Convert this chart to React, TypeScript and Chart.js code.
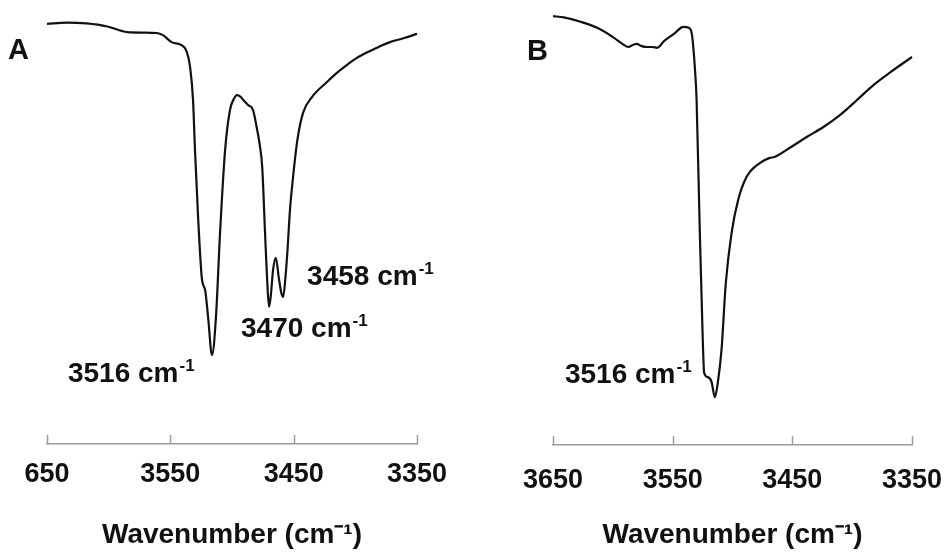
import React, { useEffect, useRef } from "react";
import { Chart, registerables } from "chart.js";

Chart.register(...registerables);

// ---- data ----
const tickValues = [3650, 3550, 3450, 3350];
const tickLabelsA = ["650", "3550", "3450", "3350"];
const tickLabelsB = ["3650", "3550", "3450", "3350"];
const axisTitle = "Wavenumber (cm\u207B\u00B9)";

const wavenumbersA = [
  3650, 3634, 3618, 3601, 3585, 3572, 3561, 3556, 3549, 3541, 3537, 3534, 3531.6, 3530, 3527.5,
  3524.3, 3521.8, 3519.4, 3516.2, 3513, 3509.7, 3505.6, 3501.6, 3498.5, 3496, 3493, 3491, 3487,
  3483, 3480, 3477.5, 3475.5, 3473.2, 3471.5, 3470, 3468.5, 3466.7, 3464.5, 3462, 3460, 3458.5,
  3456.5, 3455, 3453, 3451, 3447, 3442.4, 3435, 3423, 3415, 3407, 3399, 3390, 3381, 3372, 3361, 3350,
];
const transmittanceA = [
  96.8, 97.1, 96.9, 96.2, 94.9, 94.8, 94.7, 94.2, 92.6, 91.9, 90.6, 86.9, 79.3, 67.7, 52.3,
  37.8, 35.5, 29.3, 20.5, 29.3, 48.6, 67.7, 77.0, 79.5, 80.4, 80.0, 79.3, 78.1,
  77.0, 73.0, 68.9, 63.8, 48.6, 37.8, 31.6, 34.3, 40.1, 42.9, 38.2, 34.8, 33.9,
  38.9, 44.7, 53.9, 60.1, 70.0, 76.3, 80.0, 83.4, 85.5, 87.3, 88.9, 90.3, 91.5, 92.6, 93.5, 94.5,
];

const wavenumbersB = [
  3650, 3641, 3627, 3613, 3599, 3592, 3587, 3583, 3580, 3576, 3571.5, 3567, 3563, 3557, 3549,
  3541, 3536.5, 3534, 3531.5, 3530, 3527.3, 3525, 3523.7, 3520.6, 3517.5, 3514.8, 3512.3, 3509.2,
  3505.6, 3500.8, 3495.3, 3488.3, 3477.2, 3468.9, 3465, 3451, 3438, 3424, 3410, 3396, 3382, 3368, 3350,
];
const transmittanceB = [
  98.6, 98.3, 97.3, 95.9, 93.6, 92.2, 91.5, 92.0, 92.2, 91.7, 91.5, 91.5, 91.3, 92.9, 94.5,
  96.1, 95.9, 94.5, 86.9, 79.3, 48.7, 25.7, 16.6, 15.6, 14.5, 11.0, 14.3, 21.8,
  37.2, 48.7, 56.3, 61.6, 64.8, 66.0, 66.2, 68.5, 70.8, 73.1, 75.9, 79.3, 82.8, 85.7, 89.2,
];

const peakTextA = ["3516 cm", "3470 cm", "3458 cm"];
const peakTextB = ["3516 cm"];

// ---- layout / style ----
const FONT = '"Liberation Sans", Arial, Helvetica, sans-serif';
const INK = "#111111";
const AXIS_COLOR = "#9a9a9a";

type Ann = { text: string; x: number; y: number };

const annA: Ann[] = [
  { text: peakTextA[0], x: 3633, y: 16.1 },
  { text: peakTextA[1], x: 3492.7, y: 26.5 },
  { text: peakTextA[2], x: 3439.1, y: 38.5 },
];
const annB: Ann[] = [{ text: peakTextB[0], x: 3640, y: 16.1 }];

function makeDecor(anns: Ann[]) {
  return {
    id: "decor",
    afterDraw(chart: any) {
      const { ctx, chartArea, scales } = chart;
      const x = scales.x;
      const y = scales.y;
      ctx.save();
      ctx.strokeStyle = AXIS_COLOR;
      ctx.lineWidth = 1.5;
      x.ticks.forEach((t: any) => {
        const px = Math.round(x.getPixelForValue(t.value)) + 0.5;
        ctx.beginPath();
        ctx.moveTo(px, chartArea.bottom);
        ctx.lineTo(px, chartArea.bottom - 9);
        ctx.stroke();
      });
      ctx.fillStyle = INK;
      ctx.textBaseline = "middle";
      ctx.textAlign = "left";
      anns.forEach((a) => {
        const px = x.getPixelForValue(a.x);
        const py = y.getPixelForValue(a.y);
        ctx.font = `bold 28px ${FONT}`;
        ctx.fillText(a.text, px, py);
        const w = ctx.measureText(a.text).width;
        ctx.font = `bold 17px ${FONT}`;
        ctx.fillText("-1", px + w + 1, py - 8);
      });
      ctx.restore();
    },
  };
}

type PanelProps = {
  xs: number[];
  ys: number[];
  labels: string[];
  anns: Ann[];
  padLeft: number;
  padRight: number;
  axisHeight: number;
  tickPad: number;
};

function Panel({ xs, ys, labels, anns, padLeft, padRight, axisHeight, tickPad }: PanelProps) {
  const ref = useRef<HTMLCanvasElement | null>(null);
  useEffect(() => {
    if (!ref.current) return;
    const chart = new Chart(ref.current, {
      type: "line",
      data: {
        datasets: [
          {
            data: xs.map((v, i) => ({ x: v, y: ys[i] })),
            borderColor: INK,
            borderWidth: 2.2,
            pointRadius: 0,
            fill: false,
            cubicInterpolationMode: "monotone",
            clip: false as any,
          },
        ],
      },
      options: {
        animation: false,
        responsive: false,
        events: [],
        layout: { padding: { left: padLeft, right: padRight, top: 10, bottom: 0 } },
        plugins: { legend: { display: false }, tooltip: { enabled: false } },
        scales: {
          x: {
            type: "linear",
            min: 3350,
            max: 3650,
            reverse: true,
            afterBuildTicks: (axis: any) => {
              axis.ticks = tickValues.map((v) => ({ value: v }));
            },
            afterFit: (axis: any) => {
              axis.height = axisHeight;
              axis.paddingLeft = 0;
              axis.paddingRight = 0;
            },
            grid: { display: false },
            border: { display: true, color: AXIS_COLOR, width: 1.5 },
            ticks: {
              autoSkip: false,
              maxRotation: 0,
              minRotation: 0,
              padding: tickPad,
              color: INK,
              font: { family: FONT, size: 27, weight: "bold" },
              callback: (_v: any, i: number) => labels[i],
            },
            title: {
              display: true,
              text: axisTitle,
              color: INK,
              font: { family: FONT, size: 28, weight: "bold" },
              padding: { top: 0, bottom: 1 },
            },
          },
          y: { display: false, min: 0, max: 100 },
        },
      },
      plugins: [makeDecor(anns)],
    });
    return () => chart.destroy();
  }, []);
  return <canvas ref={ref} width={474} height={553} style={{ width: 474, height: 553, display: "block" }} />;
}

const letterStyle: React.CSSProperties = {
  position: "absolute",
  fontFamily: FONT,
  fontWeight: "bold",
  fontSize: 29,
  lineHeight: "29px",
  color: INK,
};

export default function App() {
  useEffect(() => {
    document.body.style.margin = "0";
  }, []);
  return (
    <div style={{ position: "relative", width: 948, height: 553, background: "#fff", overflow: "hidden" }}>
      <div style={{ position: "absolute", left: 0, top: 0 }}>
        <Panel xs={wavenumbersA} ys={transmittanceA} labels={tickLabelsA} anns={annA} padLeft={47} padRight={57} axisHeight={109} tickPad={6} />
      </div>
      <div style={{ position: "absolute", left: 474, top: 0 }}>
        <Panel xs={wavenumbersB} ys={transmittanceB} labels={tickLabelsB} anns={annB} padLeft={79} padRight={36} axisHeight={108} tickPad={11} />
      </div>
      <div style={{ ...letterStyle, left: 8, top: 35 }}>A</div>
      <div style={{ ...letterStyle, left: 527, top: 36 }}>B</div>
    </div>
  );
}
